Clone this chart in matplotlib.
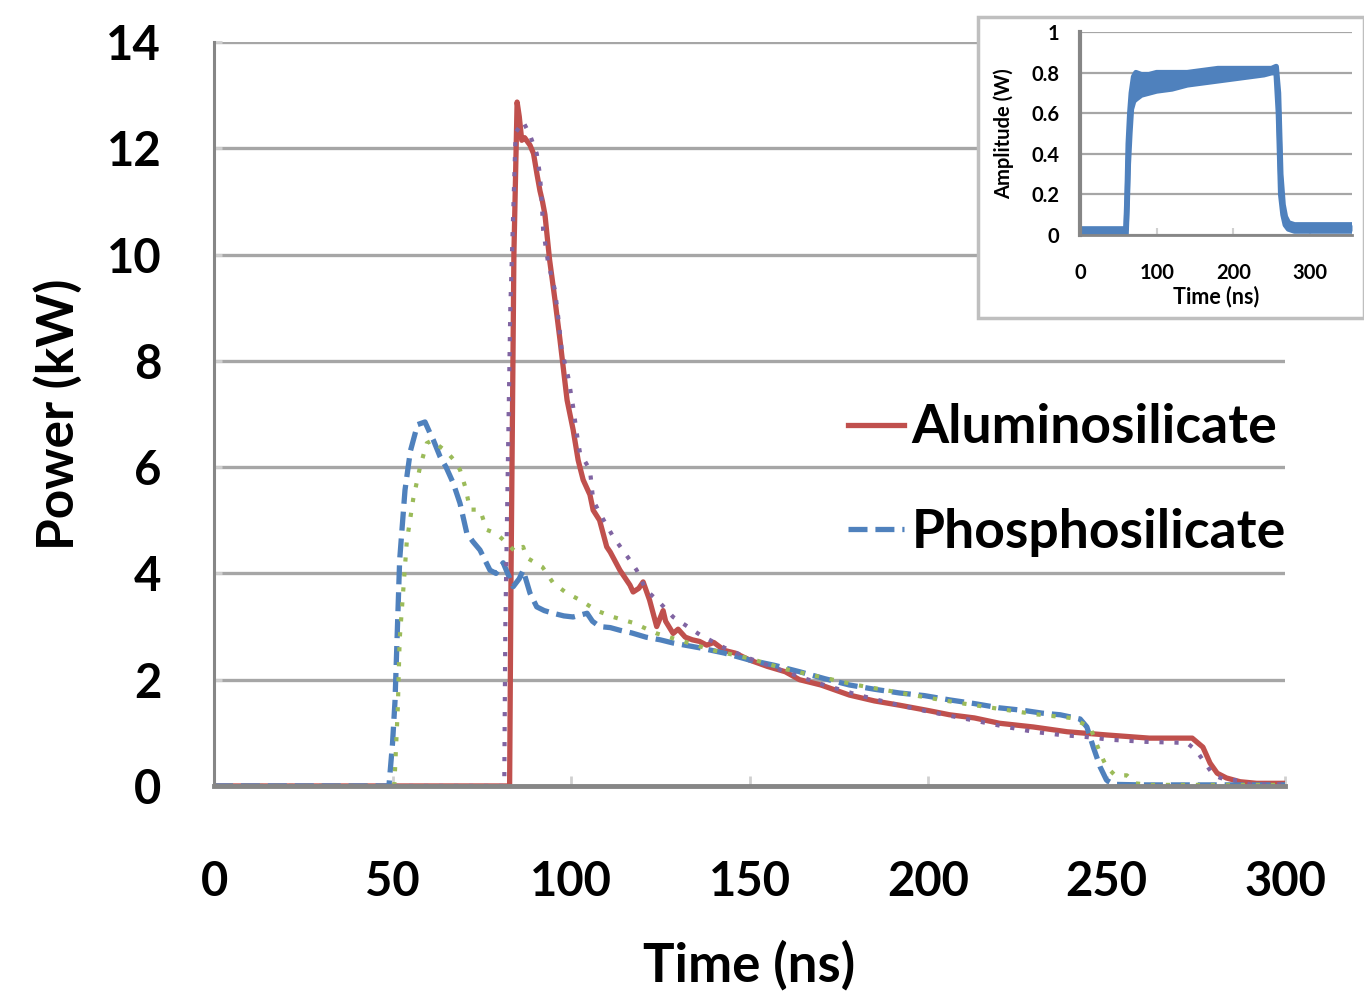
import matplotlib
matplotlib.use("Agg")
import matplotlib.pyplot as plt
from matplotlib.patches import Rectangle

plt.rcParams['font.family'] = ['Lato', 'DejaVu Sans']

# ---------------- data ----------------
alumino_t = [0, 82.8, 83.2, 84.0, 84.9, 85.5, 86.2, 87, 88.5, 89.5, 90.5, 91.3, 92.0, 92.7, 94, 95.5,
             96.9, 98.9, 100.6, 102.0, 103.4, 105.3, 106.2, 108, 110, 111, 113.7, 116.5, 117.4, 119,
             120.2, 122, 124, 125.8, 126.5, 128.6, 130, 132, 134, 136, 138, 140, 143, 146, 150, 155,
             160, 164, 170, 178, 185, 192, 200, 206, 213, 220, 229.5, 239, 250, 262, 274, 277, 279,
             281, 283.6, 287.4, 292, 300]
alumino_p = [0, 0, 4, 10, 12.87, 12.6, 12.15, 12.2, 12.06, 11.9, 11.5, 11.2, 11.0, 10.75, 9.9, 9.15,
             8.4, 7.26, 6.7, 6.13, 5.76, 5.48, 5.19, 5.0, 4.5, 4.4, 4.06, 3.78, 3.65, 3.72,
             3.84, 3.5, 3.0, 3.3, 3.1, 2.87, 2.95, 2.8, 2.75, 2.72, 2.65, 2.7, 2.55, 2.5, 2.37, 2.25,
             2.15, 2.0, 1.9, 1.71, 1.6, 1.52, 1.42, 1.34, 1.28, 1.18, 1.11, 1.02, 0.96, 0.9, 0.9, 0.73, 0.43,
             0.24, 0.15, 0.08, 0.05, 0.05]

alumino_sim_t = [0, 81.3, 81.6, 83.0, 84.5, 86.6, 88.5, 90.4, 91.3, 91.8, 92.2, 93.6, 95.5, 96.4, 97.4,
                 99.2, 100.6, 101.6, 102.5, 105.3, 106.2, 108, 111.8, 116.5, 118.4, 121, 125, 128.6,
                 136, 143, 150, 160, 170, 180, 190, 200, 210, 222, 229.5, 237, 244.5, 251, 261, 272.5,
                 275, 277.6, 280, 283.6, 287, 290, 300]
alumino_sim_p = [0, 0, 3.0, 9.0, 12.3, 12.5, 12.25, 11.9, 11.5, 11.0, 10.46, 9.84, 9.33, 8.83, 8.2,
                 7.7, 7.13, 6.64, 6.27, 5.95, 5.38, 5.14, 4.69, 4.25, 4.06, 3.69, 3.44, 3.18,
                 2.85, 2.6, 2.4, 2.15, 1.92, 1.72, 1.55, 1.4, 1.27, 1.11, 1.02, 0.96, 0.92, 0.87, 0.83, 0.81,
                 0.68, 0.43, 0.2, 0.11, 0.11, 0.03, 0.03]

phospho_t = [0, 49.0, 50.0, 50.7, 52, 53.5, 55, 57, 59.1, 60.5, 61.5, 63.3, 65, 67, 68.9, 70.8, 72.5,
             74.5, 77.3, 79, 81, 83.8, 85.5, 86.6, 88.5, 90.4, 92.5, 95, 98, 100.6, 104.5, 106, 108,
             111, 113.7, 117, 121, 125, 128.6, 136, 143, 150, 157, 164, 171, 178, 185, 192, 199, 206,
             213, 220, 227, 232, 237, 242.6, 244.5, 246.3, 248.2, 250, 252, 260, 280, 300]
phospho_p = [0, 0, 0.8, 1.6, 4.25, 5.57, 6.3, 6.8, 6.85, 6.64, 6.5, 6.2, 6.0, 5.7, 5.32, 4.76, 4.6,
             4.44, 4.06, 4.0, 4.2, 3.75, 3.9, 4.06, 3.63, 3.37, 3.3, 3.25, 3.2, 3.18, 3.25, 3.1, 3.0,
             2.98, 2.93, 2.88, 2.8, 2.75, 2.69, 2.6, 2.5, 2.37, 2.27, 2.15, 2.02, 1.9, 1.82, 1.75, 1.7,
             1.62, 1.55, 1.47, 1.42, 1.37, 1.34, 1.26, 1.11, 0.73, 0.36, 0.11, 0.03, 0.02, 0.02, 0.02]

phospho_sim_t = [0, 50.5, 51.5, 52, 54, 55.8, 57.7, 59.6, 61, 63, 65, 67, 68.9, 70.5, 71.7, 74.5, 76.4,
                 79.1, 82, 84.5, 86.6, 87.5, 92, 95, 98.8, 102.5, 107.2, 111.8, 117.4, 124, 130, 140,
                 150, 160, 170, 180, 190, 200, 210, 220, 230, 240, 245.4, 248.2, 250, 252.4, 255.7,
                 258, 262, 280, 300]
phospho_sim_p = [0, 0, 1.5, 2.75, 4.6, 5.4, 6.0, 6.45, 6.5, 6.4, 6.3, 6.15, 5.95, 5.6, 5.2, 5.2, 4.82,
                 4.75, 4.57, 4.4, 4.5, 4.3, 4.12, 3.82, 3.63, 3.5, 3.3, 3.18, 3.07, 2.87, 2.75, 2.55,
                 2.4, 2.2, 2.05, 1.9, 1.78, 1.66, 1.55, 1.45, 1.35, 1.28, 1.11, 0.62, 0.36, 0.2, 0.2,
                 0.05, 0.02, 0.02, 0.02]

inset_t = [0, 60, 61.5, 63, 65, 67, 70, 73, 80, 90, 100, 120, 140, 160, 180, 200, 220, 240, 250, 256,
           259, 262, 265, 268, 272, 280, 300, 320, 340, 355]
inset_upper = [0.03, 0.03, 0.2, 0.45, 0.6, 0.7, 0.78, 0.8, 0.79, 0.79, 0.8, 0.8, 0.8, 0.81, 0.82, 0.82,
               0.82, 0.82, 0.82, 0.83, 0.7, 0.3, 0.15, 0.09, 0.06, 0.05, 0.05, 0.05, 0.05, 0.05]
inset_lower = [0.0, 0.0, 0.15, 0.35, 0.5, 0.62, 0.66, 0.67, 0.69, 0.7, 0.71, 0.72, 0.74, 0.75, 0.76,
               0.77, 0.78, 0.79, 0.8, 0.8, 0.6, 0.2, 0.1, 0.05, 0.03, 0.02, 0.02, 0.02, 0.02, 0.02]

x_ticks = [0, 50, 100, 150, 200, 250, 300]
y_ticks = [0, 2, 4, 6, 8, 10, 12, 14]
inset_x_ticks = [0, 100, 200, 300]
inset_y_ticks = [0, 0.2, 0.4, 0.6, 0.8, 1]

RED = '#C0504D'
BLUE = '#4F81BD'
GREEN = '#9BBB59'
PURPLE = '#8064A2'
GRID = '#A6A6A6'
AXIS = '#868686'

# ---------------- figure ----------------
fig = plt.figure(figsize=(13.64, 9.93), dpi=100)
ax = fig.add_axes([0.1569, 0.2085, 0.7852, 0.7492])
ax.set_zorder(0)

ax.plot(alumino_t, alumino_p, color=RED, lw=3.8, label='Aluminosilicate', solid_joinstyle='round')
ax.plot(phospho_t, phospho_p, color=BLUE, lw=3.8, ls=(0, (3.6, 1.5)), label='Phosphosilicate')
ax.plot(phospho_sim_t, phospho_sim_p, color=GREEN, lw=3.0, ls=(0, (1, 2.6)))
ax.plot(alumino_sim_t, alumino_sim_p, color=PURPLE, lw=3.0, ls=(0, (1, 2.6)))

ax.set_xlim(0, 300)
ax.set_ylim(0, 14)
ax.set_xticks(x_ticks)
ax.set_yticks(y_ticks)
ax.grid(axis='y', color=GRID, lw=2.4)
ax.grid(axis='x', visible=False)
ax.set_axisbelow(True)
for s in ['top', 'right']:
    ax.spines[s].set_visible(False)
ax.spines['left'].set_color(AXIS)
ax.spines['left'].set_linewidth(2.2)
ax.spines['bottom'].set_color(AXIS)
ax.spines['bottom'].set_linewidth(3.5)
ax.tick_params(axis='x', direction='in', length=7, width=2, color='#D0D0D0', pad=53, labelsize=34)
ax.tick_params(axis='y', direction='in', length=6, width=2, color='#D0D0D0', pad=38, labelsize=34)
for lab in ax.get_xticklabels() + ax.get_yticklabels():
    lab.set_fontweight('bold')
ax.set_xlabel('Time (ns)', fontsize=38, fontweight='bold', labelpad=26)
ax.set_ylabel('Power (kW)', fontsize=37, fontweight='bold', labelpad=17)

leg = ax.legend(loc='center left', bbox_to_anchor=(0.592, 0.4113), frameon=False,
                prop={'size': 38.5, 'weight': 'bold'},
                handlelength=1.05, handletextpad=0.14, labelspacing=1.03, borderpad=0, borderaxespad=0)

# ---------------- inset ----------------
box = Rectangle((978 / 1364, 1 - 318 / 993), (1364 - 978) / 1364, (318 - 17) / 993,
                transform=fig.transFigure, facecolor='white', edgecolor='#BFBFBF', lw=2.5, zorder=1)
fig.add_artist(box)

axi = fig.add_axes([0.7918, 0.7633, 0.1994, 0.2044])
axi.set_zorder(2)
axi.patch.set_alpha(0)
axi.fill_between(inset_t, inset_lower, inset_upper, color=BLUE, lw=0)
axi.plot(inset_t, inset_upper, color=BLUE, lw=4)
axi.plot(inset_t, inset_lower, color=BLUE, lw=4)
axi.set_xlim(0, 355)
axi.set_ylim(0, 1)
axi.set_xticks(inset_x_ticks)
axi.set_yticks(inset_y_ticks)
axi.set_yticklabels(['0', '0.2', '0.4', '0.6', '0.8', '1'])
axi.grid(axis='y', color=GRID, lw=1.6)
axi.set_axisbelow(True)
for s in ['top', 'right']:
    axi.spines[s].set_visible(False)
axi.spines['left'].set_color(AXIS)
axi.spines['left'].set_linewidth(3)
axi.spines['bottom'].set_color(AXIS)
axi.spines['bottom'].set_linewidth(2)
axi.tick_params(axis='x', direction='in', length=5, width=1.5, color='#D0D0D0', pad=20, labelsize=14.5)
axi.tick_params(axis='y', direction='in', length=0, pad=15, labelsize=14.5)
for lab in axi.get_xticklabels() + axi.get_yticklabels():
    lab.set_fontweight('bold')
axi.set_xlabel('Time (ns)', fontsize=15.5, fontweight='bold', labelpad=2)
axi.set_ylabel('Amplitude (W)', fontsize=14.5, fontweight='bold', labelpad=12)

fig.savefig('out.png', dpi=100)
